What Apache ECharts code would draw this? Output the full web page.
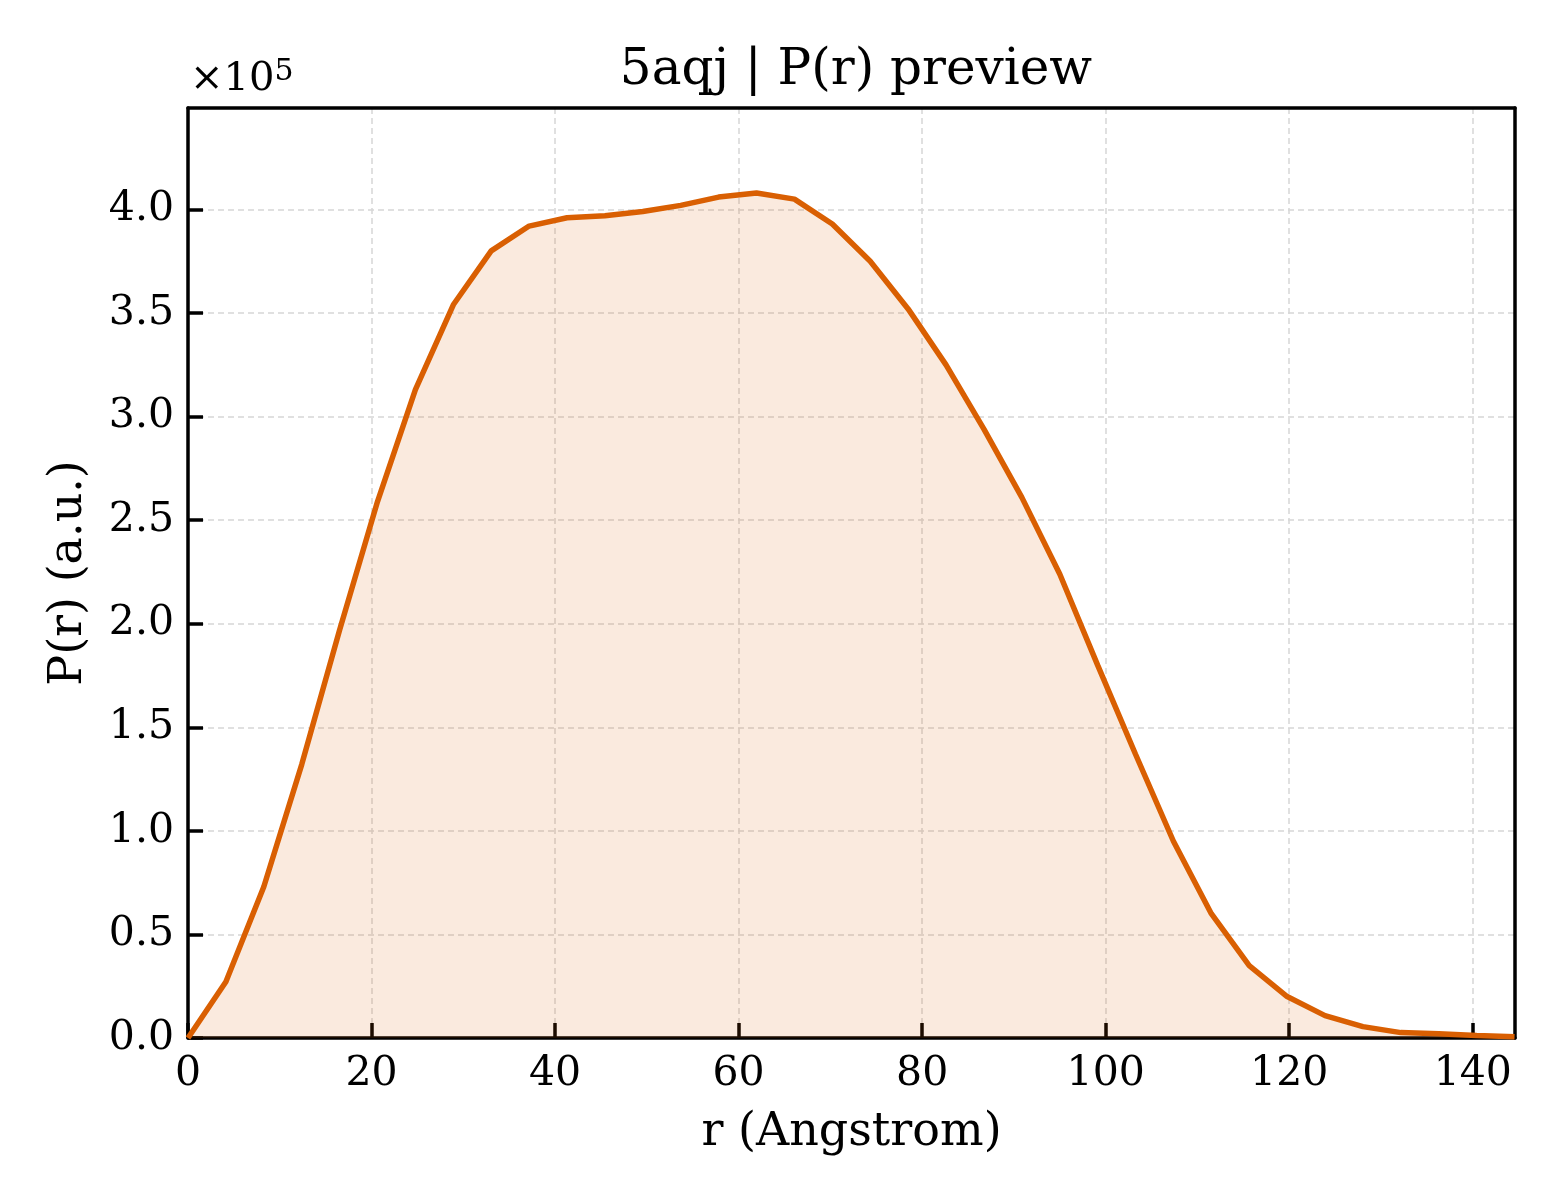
<!DOCTYPE html>
<html>
<head>
<meta charset="utf-8">
<script src="https://cdn.jsdelivr.net/npm/echarts@6/dist/echarts.min.js"></script>
<style>
  html, body { margin: 0; padding: 0; background: #fff; }
  #chart { width: 1560px; height: 1200px; }
</style>
</head>
<body>
<div id="chart"></div>
<script>
var rValues = [0, 4.13, 8.26, 12.39, 16.52, 20.65, 24.78, 28.91, 33.04, 37.17, 41.30, 45.43,
  49.56, 53.69, 57.82, 61.95, 66.08, 70.21, 74.34, 78.47, 82.60, 86.73, 90.86, 94.99,
  99.12, 103.25, 107.38, 111.51, 115.64, 119.77, 123.90, 128.03, 132.16, 136.29, 140.42, 144.55];
var prValues = [0, 27200, 73000, 132000, 197000, 259000, 313000, 354000, 380000, 392000, 396000, 397000,
  399000, 402000, 406000, 408000, 405000, 393000, 375000, 352000, 325000, 294000, 261000, 224000,
  180000, 137000, 95000, 60000, 35000, 20000, 10800, 5500, 2600, 2000, 1200, 600];
var xTicks = [0, 20, 40, 60, 80, 100, 120, 140];
var yTicks = [0, 50000, 100000, 150000, 200000, 250000, 300000, 350000, 400000];

var xMax = 144.6;
var yMax = 449000;
var font = 'DejaVu Serif';

var myChart = echarts.init(document.getElementById('chart'));

var points = rValues.map(function (r, i) { return [r, prValues[i]]; });

var gridLine = { show: true, lineStyle: { color: '#d6d6d6', width: 1.5, type: [6, 4] } };
var frameAxis = {
  axisLine: { show: true, onZero: false, lineStyle: { color: '#000', width: 3.5 } },
  axisTick: { show: false }, axisLabel: { show: false }, splitLine: { show: false }
};

var option = {
  backgroundColor: '#fff',
  animation: false,
  title: {
    text: '5aqj | P(r) preview',
    left: 851, top: 41, textAlign: 'center',
    textStyle: { fontFamily: font, fontSize: 50, fontWeight: 'normal', color: '#000' }
  },
  grid: { left: 188, right: 45, top: 108, bottom: 162 },
  graphic: [{
    type: 'text', left: 190, top: 57,
    style: {
      text: '×10{s|5}',
      fontFamily: font, fontSize: 40, fill: '#000',
      rich: { s: { fontFamily: font, fontSize: 30, verticalAlign: 'top', padding: [0, 0, 16, 0] } }
    }
  }],
  xAxis: [{
    type: 'value', min: 0, max: xMax, interval: 20,
    name: 'r (Angstrom)', nameLocation: 'middle', nameGap: 72,
    nameTextStyle: { fontFamily: font, fontSize: 46, color: '#000' },
    axisLine: { onZero: false, lineStyle: { color: '#000', width: 3.5 } },
    axisTick: { inside: true, length: 15, lineStyle: { color: '#000', width: 3.5 } },
    axisLabel: {
      fontFamily: font, fontSize: 41, color: '#000', margin: 16, showMaxLabel: false,
      formatter: function (v) { return xTicks.indexOf(v) >= 0 ? String(v) : ''; }
    },
    splitLine: gridLine
  }, Object.assign({ type: 'value', position: 'top', min: 0, max: xMax }, frameAxis)],
  yAxis: [{
    type: 'value', min: 0, max: yMax, interval: 50000,
    name: 'P(r) (a.u.)', nameLocation: 'middle', nameGap: 96,
    nameTextStyle: { fontFamily: font, fontSize: 46, color: '#000' },
    axisLine: { onZero: false, lineStyle: { color: '#000', width: 3.5 } },
    axisTick: { inside: true, length: 15, lineStyle: { color: '#000', width: 3.5 } },
    axisLabel: {
      fontFamily: font, fontSize: 41, color: '#000', margin: 14, showMaxLabel: false,
      formatter: function (v) { return yTicks.indexOf(v) >= 0 ? (v / 1e5).toFixed(1) : ''; }
    },
    splitLine: gridLine
  }, Object.assign({ type: 'value', position: 'right', min: 0, max: yMax }, frameAxis)],
  series: [{
    type: 'line',
    data: points,
    showSymbol: false,
    lineStyle: { color: '#d95f02', width: 5.5 },
    itemStyle: { color: '#d95f02' },
    areaStyle: { color: '#d95f02', opacity: 0.13 }
  }]
};

myChart.setOption(option);
</script>
</body>
</html>
